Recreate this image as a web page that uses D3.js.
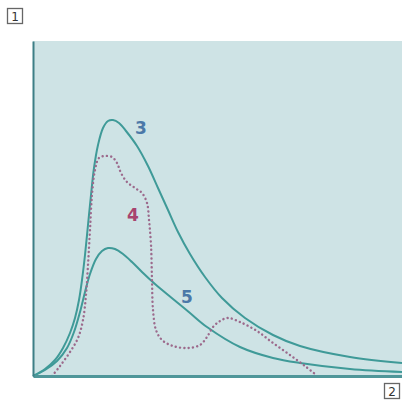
<!DOCTYPE html>
<html><head><meta charset="utf-8">
<script src="https://cdn.jsdelivr.net/npm/d3@7"></script>
<style>html,body{margin:0;padding:0;background:#fff;}svg{display:block;}</style>
</head><body>
<script>
// Curve 3 (solid)
const c3x = [0,12,22,30,37,42,46,49,52,55,58,61,65,70,75,80,86,93,104,115,125,135,145,157,172,189,212,240,267,317,369];
const c3y = [0,7,16,28,43,58,76,96,121,151,181,208,231,248,255,256,253,245,230,210,188,166,144,122,99,78,58,41,30,19,13];
// Curve 5 (solid)
const c5x = [0,12,24,34,41,47,52,57,63,69,75,82,90,99,109,122,140,157,174,207,240,267,317,369];
const c5y = [0,6,15,28,44,64,84,102,117,125,128,127,122,114,104,92,77,63,49,29,18,13,7,4];
// Curve 4 (dotted)
const d4x = [19,27,37,45,50,53,55,57,59,62,66,72,79,84,88,94,102,109,114,116,118,119,120,123,129,140,155,167,174,180,187,195,207,224,240,257,272,282];
const d4y = [0,10,24,38,56,81,111,146,181,206,218,220,219,213,203,194,188,183,173,156,131,96,66,46,36,30,28,31,39,49,55,58,54,45,33,21,10,2];
const curveLabels = [{t:"3", x:108, y:248}, {t:"4", x:100, y:161}, {t:"5", x:154, y:79}];
const axisLabels = ["1","2"];

const W = 402, H = 407;
const svg = d3.select("body").append("svg").attr("width", W).attr("height", H);
const x = d3.scaleLinear().domain([0,369]).range([33,402]);
const y = d3.scaleLinear().domain([0,335]).range([376,41]);

svg.append("rect").attr("x", x(0)).attr("y", y(335)).attr("width", x(369)-x(0)).attr("height", y(0)-y(335)).attr("fill", "#cee3e5");

const line = d3.line().x(d=>x(d[0])).y(d=>y(d[1])).curve(d3.curveCatmullRom.alpha(0.5));
const zip = (a,b)=>a.map((v,i)=>[v,b[i]]);

svg.append("path").datum(zip(c3x,c3y)).attr("d", line).attr("fill","none").attr("stroke","#3f9a98").attr("stroke-width",2);
svg.append("path").datum(zip(c5x,c5y)).attr("d", line).attr("fill","none").attr("stroke","#3f9a98").attr("stroke-width",2);
svg.append("path").datum(zip(d4x,d4y)).attr("d", line).attr("fill","none").attr("stroke","#9c6a8c").attr("stroke-width",2.4)
  .attr("stroke-dasharray","0.1,4.2").attr("stroke-linecap","round");

// axes
const gx = svg.append("g").attr("transform",`translate(0,${y(0)})`).call(d3.axisBottom(x).ticks(0).tickSizeOuter(0));
gx.select(".domain").attr("stroke","#4f9699").attr("stroke-width",3);
const gy = svg.append("g").attr("transform",`translate(${x(0)},0)`).call(d3.axisLeft(y).ticks(0).tickSizeOuter(0));
gy.select(".domain").attr("stroke","#3d7f86").attr("stroke-width",2);

// curve labels
svg.selectAll("text.cl").data(curveLabels).join("text").attr("class","cl")
  .attr("x", d=>x(d.x)).attr("y", d=>y(d.y)).attr("text-anchor","middle").attr("dominant-baseline","central")
  .attr("font-family","DejaVu Sans, sans-serif").attr("font-size",17).attr("font-weight","bold")
  .attr("fill", d=>d.t==="4" ? "#a8446f" : "#4b78a8").text(d=>d.t);

// boxed axis labels
const boxes = [{t:axisLabels[0], cx:15, cy:16}, {t:axisLabels[1], cx:392, cy:391}];
const bg = svg.selectAll("g.box").data(boxes).join("g").attr("class","box").attr("transform", d=>`translate(${d.cx},${d.cy})`);
bg.append("rect").attr("x",-7.5).attr("y",-7.5).attr("width",15).attr("height",15).attr("fill","#fff").attr("stroke","#666").attr("stroke-width",1.3);
bg.append("text").attr("text-anchor","middle").attr("dominant-baseline","central").attr("y",0.5)
  .attr("font-family","DejaVu Sans, sans-serif").attr("font-size",12).attr("fill","#333").text(d=>d.t);
</script>
</body></html>
